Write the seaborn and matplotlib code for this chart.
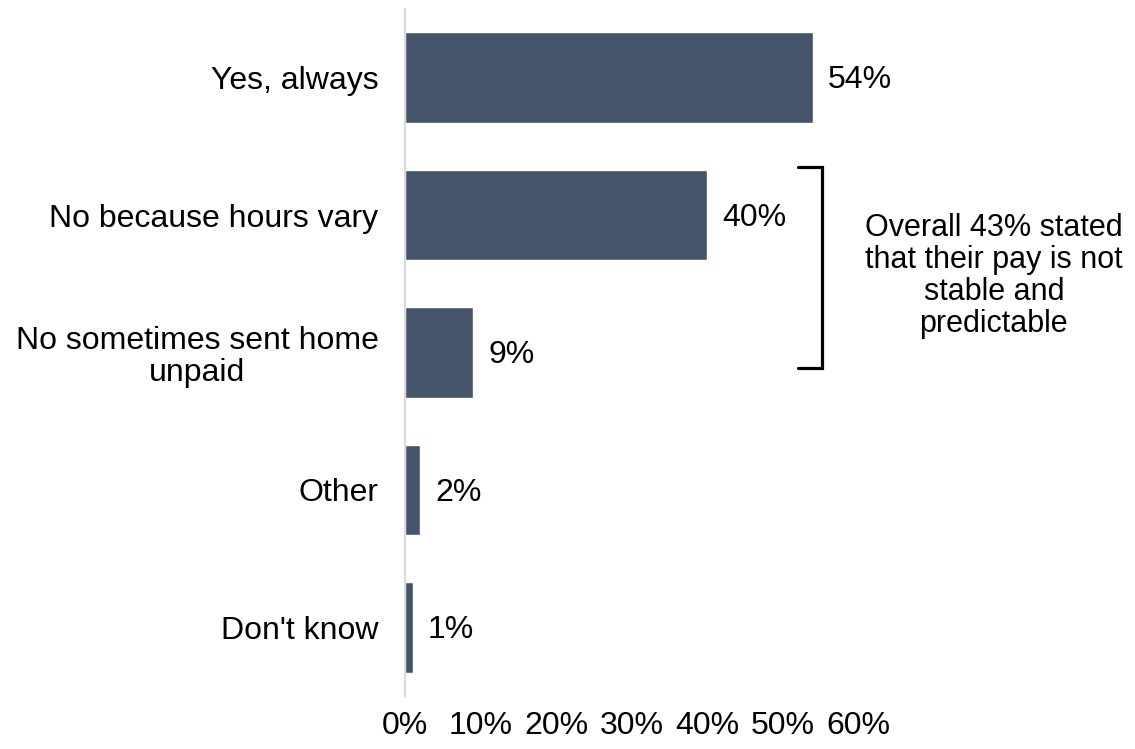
import matplotlib
matplotlib.use("Agg")
import matplotlib.pyplot as plt
import seaborn as sns
import pandas as pd

# Survey responses: is your pay stable and predictable?
categories = [
    "Yes, always",
    "No because hours vary",
    "No sometimes sent home\nunpaid",
    "Other",
    "Don't know",
]
shares = [54, 40, 9, 2, 1]
tick_values = [0, 10, 20, 30, 40, 50, 60]
tick_labels = [f"{v}%" for v in tick_values]
note_text = "Overall 43% stated\nthat their pay is not\nstable and\npredictable"

sns.set_theme(style="white")
plt.rcParams["font.family"] = ["Liberation Sans", "DejaVu Sans"]
FS = 23

df = pd.DataFrame({"category": categories, "share": shares})

fig = plt.figure(figsize=(11.35, 7.49), dpi=100)
ax = fig.add_axes([405 / 1135, 53 / 749, 453 / 1135, 687 / 749])

sns.barplot(data=df, x="share", y="category", color="#44546A",
            width=0.66, saturation=1, ax=ax)

ax.set_xlim(0, 60)
ax.set_ylim(len(categories) - 0.5, -0.5)
ax.set_xticks(tick_values)
ax.set_xticklabels(tick_labels, fontsize=FS, color="black")
ax.set_xlabel("")
ax.set_ylabel("")
ax.tick_params(axis="x", length=0, pad=11)
ax.tick_params(axis="y", length=0, pad=19, labelsize=FS, labelcolor="black")
for lbl in ax.get_yticklabels():
    lbl.set_multialignment("center")
    lbl.set_linespacing(1.1)

for side in ["top", "right", "bottom"]:
    ax.spines[side].set_visible(False)
ax.spines["left"].set_color("#D9D9D9")
ax.spines["left"].set_linewidth(1.5)

# value labels at the end of each bar
for i, v in enumerate(shares):
    ax.text(v + 2.0, i + 0.02, f"{v}%", va="center", ha="left",
            fontsize=FS, color="black")

# bracket grouping the two "No" answers
bx, bl = 55.2, 52.1
y0, y1 = 0.651, 2.113
ax.plot([bl, bx, bx, bl], [y0, y0, y1, y1], color="black", lw=2.3,
        solid_joinstyle="miter", clip_on=False)
ax.text(78.0, 1.445, note_text, ha="center", va="center", fontsize=22,
        color="black", linespacing=1.08, multialignment="center")

fig.savefig("out.png", dpi=100)
